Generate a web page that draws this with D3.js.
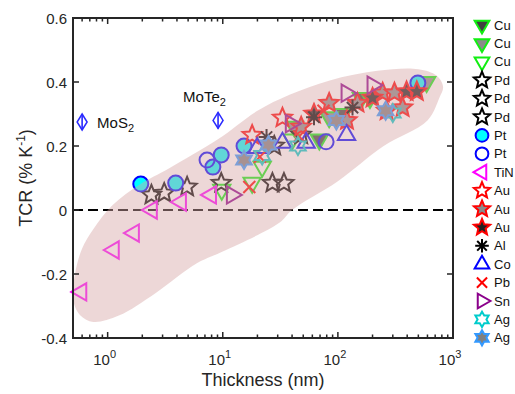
<!DOCTYPE html>
<html>
<head>
<meta charset="utf-8">
<script src="https://cdn.jsdelivr.net/npm/d3@7"></script>
<style>
  body { margin: 0; background: #fff; }
  svg { display: block; font-family: "Liberation Sans", Arial, sans-serif; }
</style>
</head>
<body>
<script>
// values: [thickness (nm), TCR (% K^-1)]
const cuDark  = [[69, 0.22], [160, 0.35], [110, 0.3]];
const cuGray  = [[84, 0.29], [42, 0.26], [590, 0.4], [190, 0.35]];
const cuOpen  = [[9.8, 0.063], [18, 0.085], [22, 0.135], [40, 0.22]];
const pdA     = [[2.4, 0.047], [3.1, 0.053], [4.9, 0.072]];
const pdB     = [[9.7, 0.084], [27, 0.084], [34, 0.084]];
const pdC     = [[28, 0.2], [48, 0.235]];
const ptFill  = [[1.94, 0.081], [3.9, 0.084], [8.2, 0.134], [9.7, 0.172], [15.3, 0.2], [495, 0.397]];
const ptOpen  = [[7.3, 0.156], [79, 0.213]];
const tin     = [[0.59, -0.256], [1.13, -0.125], [1.69, -0.072], [2.42, 0.0], [4.33, 0.025], [7.9, 0.047]];
const auOpen  = [[18, 0.234], [33, 0.288]];
const auGray  = [[48, 0.26], [84, 0.334], [148, 0.334], [245, 0.366], [265, 0.31], [365, 0.32], [310, 0.366], [120, 0.28]];
const auDark  = [[395, 0.37], [485, 0.37], [200, 0.35], [62, 0.3]];
const al      = [[24, 0.228], [62, 0.29], [134, 0.32]];
const co      = [[19.9, 0.194], [33, 0.21], [53, 0.21], [119, 0.234]];
const pb      = [[17, 0.072], [21, 0.166], [46, 0.23], [75, 0.31]];
const sn      = [[12, 0.047], [39, 0.27], [119, 0.365], [200, 0.39]];
const agOpen  = [[300, 0.303], [45, 0.2], [22, 0.17]];
const agGray  = [[15.3, 0.156], [25, 0.203], [97, 0.28], [260, 0.31]];

// 2D semiconductors with error bars: [thickness, TCR, error]
const mos2  = [[0.6, 0.275, 0.025]];
const mote2 = [[9.1, 0.28, 0.025]];

// outline of the shaded band, in data units
const band = [[0.5, -0.28], [0.52, -0.2], [0.6, -0.12], [0.75, -0.06], [1.1, 0.015], [1.9, 0.08],
  [3.4, 0.13], [9, 0.22], [20, 0.31], [38, 0.36], [85, 0.405], [220, 0.435], [500, 0.44],
  [720, 0.42], [820, 0.385], [760, 0.35], [600, 0.28], [250, 0.2], [100, 0.09], [40, 0.0],
  [31, -0.04], [10, -0.13], [6, -0.166], [2.6, -0.26], [1.25, -0.33], [0.75, -0.35], [0.58, -0.33]];

const xTicks = [1, 10, 100, 1000];
const yTicks = [-0.4, -0.2, 0, 0.2, 0.4, 0.6];

const series = [
  { label: "Cu", data: cuDark, sym: "down",  stroke: "#11ee11", fill: "#404040" },
  { label: "Cu", data: cuGray, sym: "down",  stroke: "#11ee11", fill: "#8a8a8a" },
  { label: "Cu", data: cuOpen, sym: "down",  stroke: "#11ee11", fill: "none" },
  { label: "Pd", data: pdA,    sym: "star",  stroke: "#000",    fill: "none" },
  { label: "Pd", data: pdB,    sym: "star",  stroke: "#000",    fill: "none" },
  { label: "Pd", data: pdC,    sym: "star",  stroke: "#000",    fill: "none" },
  { label: "Pt", data: ptFill, sym: "circle", stroke: "#0000ff", fill: "#00ffff" },
  { label: "Pt", data: ptOpen, sym: "circle", stroke: "#0000ff", fill: "none" },
  { label: "TiN", data: tin,   sym: "left",  stroke: "#ff00ff", fill: "none" },
  { label: "Au", data: auOpen, sym: "star",  stroke: "#ff0000", fill: "none" },
  { label: "Au", data: auGray, sym: "star",  stroke: "#ff0000", fill: "#8a8a8a" },
  { label: "Au", data: auDark, sym: "star",  stroke: "#ff0000", fill: "#222" },
  { label: "Al", data: al,     sym: "aster", stroke: "#000",    fill: "none" },
  { label: "Co", data: co,     sym: "up",    stroke: "#0000ff", fill: "none" },
  { label: "Pb", data: pb,     sym: "x",     stroke: "#ff0000", fill: "none" },
  { label: "Sn", data: sn,     sym: "right", stroke: "#8b008b", fill: "none" },
  { label: "Ag", data: agOpen, sym: "hex",   stroke: "#00cccc", fill: "none" },
  { label: "Ag", data: agGray, sym: "hex",   stroke: "#3399ff", fill: "#808080" }
];

const sizes = { down: 10, up: 10, left: 10, right: 10, star: 10, hex: 9, circle: 7.5, aster: 8, x: 6 };

function shape(type, r) {
  const p = d3.path();
  const poly = pts => { pts.forEach(([a, b], i) => i ? p.lineTo(a, b) : p.moveTo(a, b)); p.closePath(); };
  const tri = rot => poly(d3.range(3).map(i => {
    const a = rot + i * 2 * Math.PI / 3;
    return [r * Math.cos(a), r * Math.sin(a)];
  }));
  const rays = (n, inner) => poly(d3.range(2 * n).map(i => {
    const a = -Math.PI / 2 + i * Math.PI / n, rr = i % 2 ? r * inner : r;
    return [rr * Math.cos(a), rr * Math.sin(a)];
  }));
  switch (type) {
    case "circle": p.arc(0, 0, r, 0, 2 * Math.PI); break;
    case "down": tri(Math.PI / 2); break;
    case "up": tri(-Math.PI / 2); break;
    case "left": tri(Math.PI); break;
    case "right": tri(0); break;
    case "star": rays(5, 0.45); break;
    case "hex": rays(6, 0.577); break;
    case "aster":
      for (let i = 0; i < 4; i++) {
        const a = i * Math.PI / 4;
        p.moveTo(-r * Math.cos(a), -r * Math.sin(a));
        p.lineTo(r * Math.cos(a), r * Math.sin(a));
      }
      break;
    case "x":
      p.moveTo(-r, -r); p.lineTo(r, r); p.moveTo(-r, r); p.lineTo(r, -r);
      break;
  }
  return p.toString();
}

const width = 515, height = 394;
const svg = d3.select("body").append("svg").attr("width", width).attr("height", height);

const x = d3.scaleLog().domain([0.5, 1000]).range([73, 453]);
const y = d3.scaleLinear().domain([-0.4, 0.6]).range([338, 18]);

// zero line
svg.append("line")
  .attr("x1", x.range()[0]).attr("x2", x.range()[1])
  .attr("y1", y(0)).attr("y2", y(0))
  .attr("stroke", "#000").attr("stroke-width", 2).attr("stroke-dasharray", "10,5");

// markers
series.forEach(s => {
  svg.append("g").selectAll("path")
    .data(s.data)
    .join("path")
    .attr("d", shape(s.sym, sizes[s.sym]))
    .attr("transform", d => `translate(${x(d[0])},${y(d[1])})`)
    .attr("fill", s.fill)
    .attr("stroke", s.stroke)
    .attr("stroke-width", 2);
});

// shaded band laid over the points
svg.append("path")
  .datum(band)
  .attr("d", d3.line().x(d => x(d[0])).y(d => y(d[1])).curve(d3.curveCatmullRomClosed.alpha(0.5)))
  .attr("fill", "#d7a7a7")
  .attr("fill-opacity", 0.45);

// 2D materials with error bars
function errMark(data, label, lx, ly) {
  const g = svg.append("g");
  data.forEach(d => {
    const cx = x(d[0]), cy = y(d[1]);
    g.append("line").attr("x1", cx).attr("x2", cx)
      .attr("y1", y(d[1] + d[2])).attr("y2", y(d[1] - d[2]))
      .attr("stroke", "#1a1aff").attr("stroke-width", 1.5);
    g.append("path")
      .attr("d", `M${cx},${cy - 8}L${cx + 5},${cy}L${cx},${cy + 8}L${cx - 5},${cy}Z`)
      .attr("fill", "none").attr("stroke", "#2a2aff").attr("stroke-width", 1.5);
    const t = g.append("text").attr("x", cx + lx).attr("y", cy + ly)
      .attr("font-size", 15).attr("fill", "#111");
    t.append("tspan").text(label);
    t.append("tspan").attr("font-size", 11).attr("dy", 4).text("2");
  });
}
errMark(mos2, "MoS", 15, 6);
errMark(mote2, "MoTe", -35, -18);

// axes box and ticks
const [x0, x1] = x.range(), [y0, y1] = y.range();
const minor = [];
[0.1, 1, 10, 100].forEach(dec => d3.range(2, 10).forEach(m => {
  const v = dec * m;
  if (v >= 0.5 && v < 1000) minor.push(v);
}));

const axes = svg.append("g").attr("stroke", "#262626").attr("stroke-width", 1.5);
axes.selectAll(".xmaj").data(xTicks).join("path")
  .attr("d", d => `M${x(d)},${y0}v-6M${x(d)},${y1}v6`);
axes.selectAll(".xmin").data(minor).join("path")
  .attr("d", d => `M${x(d)},${y0}v-3.5M${x(d)},${y1}v3.5`);
axes.selectAll(".ymaj").data(yTicks).join("path")
  .attr("d", d => `M${x0},${y(d)}h6M${x1},${y(d)}h-6`);
axes.append("rect")
  .attr("x", x0).attr("y", y1).attr("width", x1 - x0).attr("height", y0 - y1)
  .attr("fill", "none").attr("stroke-width", 2);

// tick labels
svg.selectAll(".ylab").data(yTicks).join("text")
  .attr("x", x0 - 6).attr("y", d => y(d))
  .attr("text-anchor", "end").attr("dominant-baseline", "central")
  .attr("font-size", 15).attr("fill", "#262626")
  .text(d => d === 0 ? "0" : d3.format(".1f")(d).replace("−", "-"));

const xl = svg.selectAll(".xlab").data(xTicks).join("text")
  .attr("x", d => x(d) - 3).attr("y", 365)
  .attr("text-anchor", "middle").attr("font-size", 15).attr("fill", "#262626");
xl.append("tspan").text("10");
xl.append("tspan").attr("font-size", 11).attr("dy", -7).text(d => Math.round(Math.log10(d)));

// axis titles
svg.append("text")
  .attr("x", (x0 + x1) / 2).attr("y", 386)
  .attr("text-anchor", "middle").attr("font-size", 18).attr("fill", "#262626")
  .text("Thickness (nm)");

const yt = svg.append("text")
  .attr("transform", `translate(32,${(y0 + y1) / 2}) rotate(-90)`)
  .attr("text-anchor", "middle").attr("font-size", 18).attr("fill", "#262626");
yt.append("tspan").text("TCR (% K");
yt.append("tspan").attr("font-size", 12).attr("dy", -7).text("-1");
yt.append("tspan").attr("dy", 7).text(")");

// legend
const legend = svg.append("g").selectAll("g")
  .data(series)
  .join("g")
  .attr("transform", (d, i) => `translate(482,${25 + i * 18.4})`);
legend.append("path")
  .attr("d", d => shape(d.sym, sizes[d.sym] * 0.85))
  .attr("fill", d => d.fill)
  .attr("stroke", d => d.stroke)
  .attr("stroke-width", 2);
legend.append("text")
  .attr("x", 12).attr("dominant-baseline", "central")
  .attr("font-size", 13).attr("fill", "#111")
  .text(d => d.label);
</script>
</body>
</html>
